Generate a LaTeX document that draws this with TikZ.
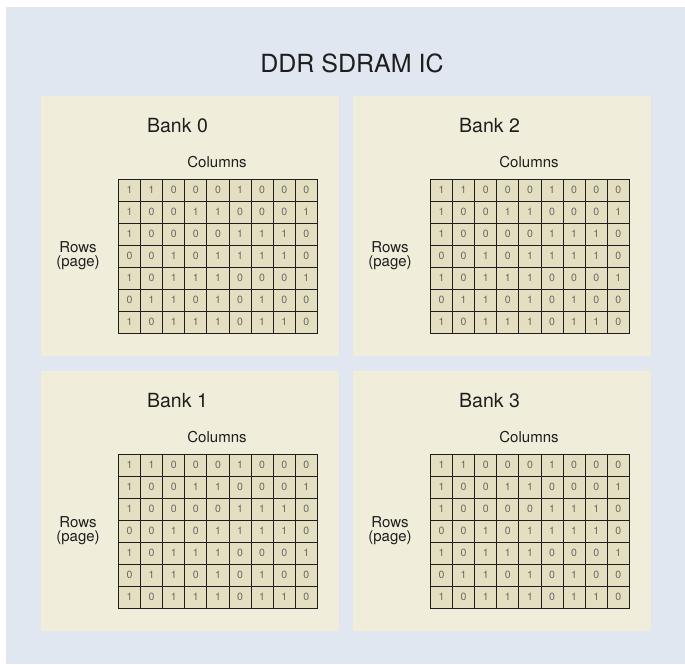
\documentclass[tikz,border=0pt]{standalone}
\usepackage{fontspec}
\setmainfont{TeX Gyre Heros}
\usetikzlibrary{positioning}

\definecolor{chipbg}{HTML}{E1E7F1}
\definecolor{bankbg}{HTML}{F0EDDA}
\definecolor{cellbg}{HTML}{E5DFC1}
\definecolor{bitgray}{HTML}{666666}
\definecolor{inkdark}{HTML}{1E1E1E}

\tikzset{
    bankpanel/.style={fill=bankbg, draw=none, inner sep=0pt, anchor=north west,
        minimum width=298pt, minimum height=260pt},
    bitcell/.style={draw=inkdark, line width=1pt, fill=cellbg, inner sep=0pt,
        anchor=north west, minimum width=22.1pt, minimum height=22pt,
        text=bitgray, font=\fontsize{10.5}{11}\selectfont},
    banktitle/.style={anchor=base, inner sep=0pt, text=inkdark,
        font=\fontsize{19.5}{22}\selectfont},
    axislabel/.style={inner sep=0pt, text=inkdark, align=center,
        font=\fontsize{15}{14}\selectfont}
}

\begin{document}
\begin{tikzpicture}[x=1pt, y=-1pt]
    \useasboundingbox (0,0) rectangle (685,664);
    % Chip background
    \fill[chipbg] (6,7) rectangle (685,664);
    \node[anchor=base, inner sep=0pt, text=inkdark, font=\fontsize{25}{28}\selectfont]
        (chip) at (352,72.3) {DDR SDRAM IC};

    % Four banks, same bit pattern
    \foreach \n/\px/\py in {0/41/96, 2/353/96, 1/41/371, 3/353/371} {
        \node[bankpanel] (bank\n) at (\px,\py) {};
        \node[banktitle] (title\n) at (\px+136.5,\py+36.7) {Bank \n};
        \node[axislabel, anchor=base] (cols\n) at (\px+176,\py+71.7) {Columns};
        \node[axislabel] (rows\n) at (\px+37,\py+159.5) {Rows\\(page)};
        \foreach \bits [count=\r] in {{1,1,0,0,0,1,0,0,0},{1,0,0,1,1,0,0,0,1},
            {1,0,0,0,0,1,1,1,0},{0,0,1,0,1,1,1,1,0},{1,0,1,1,1,0,0,0,1},
            {0,1,1,0,1,0,1,0,0},{1,0,1,1,1,0,1,1,0}} {
            \foreach \b [count=\c] in \bits
                \node[bitcell] (cell\n-\r-\c) at (\px+77+\c*22.1-22.1,\py+82.5+\r*22-22) {\b};
        }
    }
\end{tikzpicture}
\end{document}
